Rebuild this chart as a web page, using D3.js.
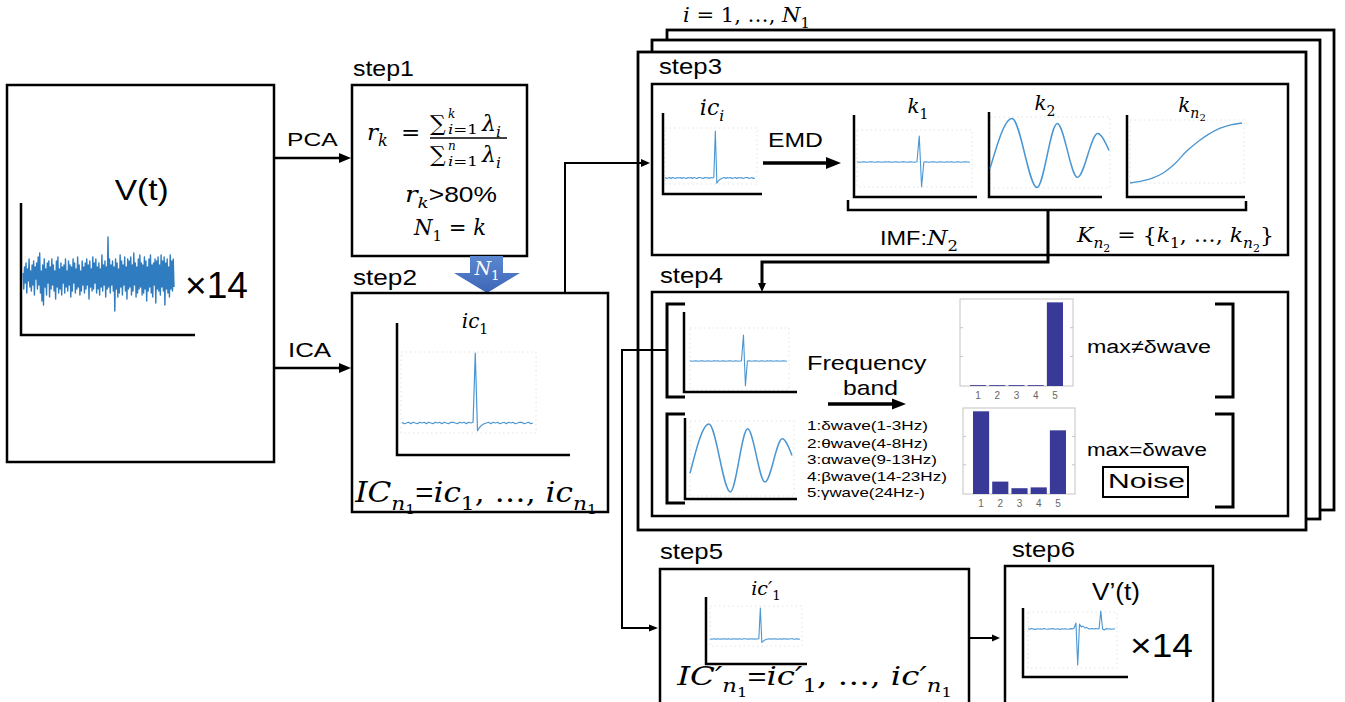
<!DOCTYPE html>
<html>
<head>
<meta charset="utf-8">
<script src="https://cdn.jsdelivr.net/npm/d3@7"></script>
<style>
  html, body { margin: 0; padding: 0; background: #fff; }
  svg { display: block; }
</style>
</head>
<body>
<svg id="fig" width="1345" height="702"></svg>
<script>
// ---------------- sample traces (values read per sample) ----------------
// raw multichannel EEG, one channel, in tenths of a unit
const rawEeg = [
  2,-6,5,-3,7,-8,4,-2,9,-5,3,-7,6,-4,8,-9,5,-1,7,-6,
  10,-4,12,-8,3,-12,6,-14,9,-5,4,-9,7,-3,8,-10,5,-6,9,-4,
  6,-7,3,-11,8,-5,10,-8,4,-6,7,-9,5,-3,6,-8,9,-5,3,-7,
  8,-4,6,-10,5,-7,9,-3,7,-8,4,-6,10,-5,6,-9,3,-7,8,-4,
  5,-8,7,-6,9,-4,6,-11,8,-5,4,-7,10,-6,7,-3,9,-8,5,-6,
  7,-9,4,-5,11,-7,6,-4,8,-10,5,-6,20,-5,9,-8,6,-4,8,-7,
  5,-17,9,-6,7,-10,4,-8,11,-5,8,-9,6,-4,10,-7,5,-11,9,-6,
  8,-5,10,-9,6,-7,12,-4,7,-10,5,-8,9,-6,11,-5,7,-9,6,-8,
  10,-6,8,-12,5,-7,9,-5,11,-8,6,-10,7,-4,9,-13,8,-6,10,-7,
  6,-9,11,-5,8,-7,10,-14,7,-6,9,-8,5,-10,11,-6,8,-7,9,-5
];
// independent component with a single spike
const icTrace = [
  0.01,-0.01,0.00,0.01,-0.01,0.01,0.00,-0.01,0.01,0.00,
  0.01,-0.01,0.01,0.00,-0.01,0.01,0.00,0.01,-0.01,0.01,
  0.00,-0.01,0.01,0.01,0.00,-0.01,0.01,0.00,0.01,-0.01,
  0.01,0.00,0.01,1.00,-0.11,-0.06,-0.03,-0.01,0.00,0.01,
  -0.01,0.01,0.00,0.01,-0.01,0.00,0.01,-0.01,0.01,0.00,
  0.01,-0.01,0.00,0.01,0.01,-0.01,0.00,0.01,-0.01,0.00
];
// first IMF: flat with one sharp transient
const imfSpike = [
  0.01,-0.01,0.00,0.01,-0.01,0.00,0.01,0.00,-0.01,0.01,
  0.00,-0.01,0.01,0.00,0.01,-0.01,0.00,0.01,-0.01,0.00,
  0.01,0.00,-0.01,0.01,0.00,-0.01,0.01,1.00,-0.95,0.00,
  0.01,-0.01,0.00,0.01,0.00,-0.01,0.01,0.00,-0.01,0.01,
  0.00,0.01,-0.01,0.00,0.01,-0.01,0.00,0.01,0.00,-0.01
];
// second IMF: oscillation, [position, value] at extrema
const imfOsc = [[0,-0.46],[0.185,0.97],[0.395,-1.0],[0.565,0.83],[0.735,-0.71],[0.905,0.54],[1,0.06]];
// last IMF: slow trend
const imfTrend = [[0,0],[0.1,0.03],[0.2,0.08],[0.3,0.17],[0.4,0.32],[0.5,0.52],[0.6,0.68],[0.7,0.81],[0.8,0.91],[0.9,0.97],[1,1]];
// reconstructed EEG after artifact removal
const cleanTrace = [
  0.01,-0.01,0.02,0.00,-0.02,0.01,0.00,0.01,-0.01,0.02,
  0.00,-0.01,0.01,0.00,0.02,-0.01,0.00,0.01,-0.02,0.01,
  0.00,0.01,-0.01,0.00,0.02,0.00,0.05,0.30,-1.80,0.25,
  0.10,0.15,0.05,0.08,0.02,0.00,0.03,0.00,0.02,0.01,
  0.00,0.90,0.00,-0.05,0.02,0.00,0.01,-0.01,0.00,0.01
];
// relative power per frequency band
const bandTicks = ["1", "2", "3", "4", "5"];
const bandNames = ["1:δwave(1-3Hz)", "2:θwave(4-8Hz)", "3:αwave(9-13Hz)", "4:βwave(14-23Hz)", "5:γwave(24Hz-)"];
const powerSpikeImf = [0.01, 0.01, 0.01, 0.01, 1.0];
const powerOscImf = [1.0, 0.15, 0.07, 0.08, 0.77];

// ---------------- drawing helpers ----------------
const svg = d3.select("#fig");
const SANS = "'Liberation Sans', Arial, sans-serif";
const MATH = "'DejaVu Serif', serif";
const TRACE = "#4a96d2";

function box(x0, y0, x1, y1, sw = 2.5) {
  svg.append("rect").attr("x", x0).attr("y", y0)
    .attr("width", x1 - x0).attr("height", y1 - y0)
    .attr("fill", "#fff").attr("stroke", "#000").attr("stroke-width", sw);
}
function path(pts, sw = 2.5) {
  svg.append("path").attr("d", d3.line()(pts))
    .attr("fill", "none").attr("stroke", "#000").attr("stroke-width", sw);
}
function arrow(pts, L = 11, W = 10, sw = 2.5) {
  const n = pts.length;
  const [x1, y1] = pts[n - 2], [x2, y2] = pts[n - 1];
  const len = Math.hypot(x2 - x1, y2 - y1);
  const ux = (x2 - x1) / len, uy = (y2 - y1) / len;
  const bx = x2 - ux * L, by = y2 - uy * L;
  path(pts.slice(0, n - 1).concat([[bx + ux, by + uy]]), sw);
  const px = -uy, py = ux;
  svg.append("path")
    .attr("d", `M${x2},${y2}L${bx + px * W / 2},${by + py * W / 2}L${bx - px * W / 2},${by - py * W / 2}Z`)
    .attr("fill", "#000");
}
function fit(sel, width) {
  const bb = sel.node().getBBox();
  const k = width / bb.width;
  sel.attr("transform", `translate(${bb.x},0) scale(${k},1) translate(${-bb.x},0)`);
  return sel;
}
function label(x, y, txt, size, width, anchor = "start") {
  const t = svg.append("text").attr("x", x).attr("y", y)
    .attr("font-family", SANS).attr("font-size", size)
    .attr("text-anchor", anchor).attr("fill", "#000").text(txt);
  if (width) fit(t, width);
  return t;
}
const KIND = {
  i:      { fs: 1,    sh: 0,    fam: MATH, st: "italic" },
  r:      { fs: 1,    sh: 0,    fam: MATH, st: "normal" },
  s:      { fs: 1,    sh: 0,    fam: SANS, st: "normal" },
  sub:    { fs: 0.7,  sh: 0.28, fam: MATH, st: "normal" },
  subi:   { fs: 0.7,  sh: 0.28, fam: MATH, st: "italic" },
  subsub: { fs: 0.5,  sh: 0.46, fam: MATH, st: "normal" }
};
function math(x, y, size, parts, width, anchor = "start", color = "#000") {
  const t = svg.append("text").attr("x", x).attr("y", y)
    .attr("font-size", size).attr("text-anchor", anchor).attr("fill", color);
  let shift = 0;
  parts.forEach(([s, k]) => {
    const c = KIND[k || "i"];
    const target = c.sh * size;
    t.append("tspan").attr("dy", target - shift)
      .attr("font-size", c.fs * size).attr("font-family", c.fam)
      .attr("font-style", c.st).text(s);
    shift = target;
  });
  if (width) fit(t, width);
  return t;
}
function axesL(x, yTop, yBot, xRight, sw = 2.5) {
  path([[x, yTop], [x, yBot], [xRight, yBot]], sw);
}
function faintFrame(x0, y0, x1, y1) {
  svg.append("rect").attr("x", x0).attr("y", y0)
    .attr("width", x1 - x0).attr("height", y1 - y0)
    .attr("fill", "none").attr("stroke", "#e2e2e2").attr("stroke-width", 1)
    .attr("stroke-dasharray", "1.5,3");
}
// series of equally spaced samples
function trace(values, x0, x1, base, unit, sw = 1.2, color = TRACE) {
  const x = d3.scaleLinear().domain([0, values.length - 1]).range([x0, x1]);
  const y = d3.scaleLinear().domain([0, 1]).range([base, base - unit]);
  svg.append("path")
    .attr("d", d3.line().x((d, i) => x(i)).y(d => y(d))(values))
    .attr("fill", "none").attr("stroke", color).attr("stroke-width", sw)
    .attr("stroke-linejoin", "round");
}
// series of [position, value] points, smoothed
function curve(points, x0, x1, base, unit, sw = 1.5) {
  const x = d3.scaleLinear().domain([0, 1]).range([x0, x1]);
  const y = d3.scaleLinear().domain([0, 1]).range([base, base - unit]);
  svg.append("path")
    .attr("d", d3.line().x(d => x(d[0])).y(d => y(d[1])).curve(d3.curveMonotoneX)(points))
    .attr("fill", "none").attr("stroke", TRACE).attr("stroke-width", sw);
}
function bars(values, fx0, fy0, fx1, fy1, bx0, bx1) {
  svg.append("rect").attr("x", fx0).attr("y", fy0)
    .attr("width", fx1 - fx0).attr("height", fy1 - fy0)
    .attr("fill", "#fff").attr("stroke", "#c4c4c4").attr("stroke-width", 1);
  const x = d3.scaleBand().domain(bandTicks).range([bx0, bx1]).paddingInner(0.16).paddingOuter(0);
  const y = d3.scaleLinear().domain([0, 1.04]).range([fy1, fy0]);
  [0.33, 0.66].forEach(f => {
    const yy = fy0 + (fy1 - fy0) * f;
    svg.append("line").attr("x1", fx0).attr("x2", fx0 + 3).attr("y1", yy).attr("y2", yy)
      .attr("stroke", "#c4c4c4");
    svg.append("line").attr("x1", fx1 - 3).attr("x2", fx1).attr("y1", yy).attr("y2", yy)
      .attr("stroke", "#c4c4c4");
  });
  svg.append("g").selectAll("rect").data(values).join("rect")
    .attr("x", (d, i) => x(bandTicks[i])).attr("width", x.bandwidth())
    .attr("y", d => y(d)).attr("height", d => fy1 - y(d))
    .attr("fill", "#393997");
  const ax = svg.append("g").attr("transform", `translate(0,${fy1})`)
    .call(d3.axisBottom(x).tickSize(0).tickPadding(6));
  ax.select(".domain").remove();
  ax.selectAll("text").attr("font-family", "'Liberation Sans Narrow', " + SANS)
    .attr("font-size", 10).attr("fill", "#666");
}

// ---------------- raw EEG input ----------------
box(7, 85, 274, 462);
label(138, 200, "V(t)", 29, 54, "middle");
axesL(21, 203, 335, 195);
trace(rawEeg.map(v => v / 10), 23, 174, 277, 20, 1.4, "#2f7cc0");
label(185, 298, "×14", 37, 63);

arrow([[274, 158], [351, 158]], 12, 10, 2.5);
label(287, 146, "PCA", 19, 51);
arrow([[274, 368], [351, 368]], 12, 10, 2.5);
label(288, 357, "ICA", 20, 44);

// ---------------- step1: number of components ----------------
label(353, 76, "step1", 22, 61);
box(352, 85, 527, 256);
math(367, 140, 23, [["r", "i"], ["k", "subi"]]);
math(401, 140, 23, [["=", "r"]]);
[[131, 118, "k", 134], [162, 150, "n", 166]].forEach(([yb, ysup, lim, ysub]) => {
  math(430, yb, 22, [["∑", "r"]]);
  math(448, ysup, 12, [[lim, "i"]]);
  math(448, ysub, 12, [["i", "i"], ["=1", "r"]], 30);
  math(482, yb, 22, [["λ", "i"], ["i", "subi"]]);
});
path([[430, 138], [507, 138]], 1.4);
math(405, 202, 22, [["r", "i"], ["k", "subi"], [">80%", "s"]], 92);
math(414, 235, 22, [["N", "i"], ["1", "sub"], [" = ", "r"], ["k", "i"]], 73);

// PCA count passed down to ICA
const grad = svg.append("defs").append("linearGradient").attr("id", "blueArrow")
  .attr("x1", 0).attr("y1", 0).attr("x2", 0).attr("y2", 1);
grad.append("stop").attr("offset", 0).attr("stop-color", "#5b86d0");
grad.append("stop").attr("offset", 1).attr("stop-color", "#3d67b6");
svg.append("path")
  .attr("d", "M470,256 H503 V273 H520 L487,293 L454,273 H470 Z")
  .attr("fill", "url(#blueArrow)");
math(487, 275, 19, [["N", "i"], ["1", "sub"]], null, "middle", "#fff");

// ---------------- step2: ICA ----------------
label(353, 285, "step2", 22, 64);
box(352, 293, 608, 512);
faintFrame(401, 352, 536, 433);
axesL(397, 323, 455, 570);
trace(icTrace, 402, 533, 423, 70, 1.2);
math(475, 328, 20, [["ic", "i"], ["1", "sub"]], null, "middle");
math(355, 502, 27, [["IC", "i"], ["n", "subi"], ["1", "subsub"], ["=", "s"], ["ic", "i"], ["1", "sub"],
  [", …, ", "r"], ["ic", "i"], ["n", "subi"], ["1", "subsub"]], 243);

// ---------------- stacked per-component frames ----------------
box(667, 30, 1334, 510, 2.8);
box(652, 40, 1320, 519, 2.8);
box(638, 52, 1306, 530, 2.8);
math(683, 22, 21, [["i", "i"], [" = 1, …, ", "r"], ["N", "i"], ["1", "sub"]], 127);

arrow([[565, 293], [565, 163], [650, 163]], 9, 8, 2);

// ---------------- step3: EMD ----------------
label(659, 74, "step3", 22, 63);
box(652, 84, 1288, 255);

faintFrame(665, 128, 757, 184);
axesL(663, 113, 194, 762);
trace(icTrace, 665, 755, 178, 47, 1.1);
math(712, 115, 22, [["ic", "i"], ["i", "subi"]], null, "middle");

label(768, 147, "EMD", 20, 55);
arrow([[763, 163], [841, 163]], 15, 12, 3.5);

faintFrame(857, 130, 972, 187);
axesL(854, 115, 197, 977);
trace(imfSpike, 857, 970, 162, 26, 1.1);
math(918, 113, 20, [["k", "i"], ["1", "sub"]], null, "middle");

faintFrame(990, 117, 1110, 188);
axesL(989, 112, 197, 1102);
curve(imfOsc, 990, 1109, 152.5, 35, 1.5);
math(1045, 110, 20, [["k", "i"], ["2", "sub"]], null, "middle");

faintFrame(1130, 120, 1244, 183);
axesL(1127, 115, 197, 1245);
curve(imfTrend, 1130, 1242, 183, 60, 1.3);
math(1192, 112, 20, [["k", "i"], ["n", "subi"], ["2", "subsub"]], null, "middle");

// brace grouping the IMFs
path([[848, 200], [848, 210], [1246, 210], [1246, 201]], 2.5);
math(880, 245, 21, [["IMF:", "s"], ["N", "i"], ["2", "sub"]], 78);
math(1077, 242, 21, [["K", "i"], ["n", "subi"], ["2", "subsub"], [" = {", "r"], ["k", "i"], ["1", "sub"],
  [", …, ", "r"], ["k", "i"], ["n", "subi"], ["2", "subsub"], ["}", "r"]], 198);

arrow([[1048, 210], [1048, 262], [762, 262], [762, 292]], 9, 8, 3);

// ---------------- step4: band power classification ----------------
label(660, 283, "step4", 22, 63);
box(652, 292, 1288, 516);

path([[685, 304], [667, 304], [667, 397], [685, 397]], 3);
path([[685, 414], [667, 414], [667, 503], [685, 503]], 3);
path([[1215, 304], [1233, 304], [1233, 397], [1215, 397]], 3);
path([[1215, 414], [1233, 414], [1233, 507], [1215, 507]], 3);

faintFrame(690, 328, 789, 390);
axesL(684, 312, 392, 797);
trace(imfSpike, 690, 787, 361, 26, 1.1);

faintFrame(690, 421, 794, 496);
axesL(685, 418, 499, 797);
curve(imfOsc, 690, 792, 457.5, 34.5, 1.5);

label(807, 370, "Frequency", 21, 120);
label(843, 395, "band", 21, 55);
arrow([[828, 404], [906, 404]], 14, 11, 3.5);

const legendY = [430, 448, 464, 481, 497];
const legendW = [121, 121, 130, 140, 118];
bandNames.forEach((s, i) => label(807, legendY[i], s, 12.5, legendW[i]));

bars(powerSpikeImf, 960, 299, 1073, 386, 970, 1063);
bars(powerOscImf, 963, 408, 1075, 494, 973, 1066);

label(1087, 353, "max≠δwave", 19, 124);
label(1087, 456, "max=δwave", 19, 120);
svg.append("rect").attr("x", 1103).attr("y", 467).attr("width", 85).attr("height", 30)
  .attr("fill", "#fff").attr("stroke", "#000").attr("stroke-width", 2);
label(1108, 488, "Noise", 20, 77);

arrow([[667, 350], [622, 350], [622, 628], [658, 628]], 9, 7, 2);

// ---------------- step5: cleaned components ----------------
label(660, 559, "step5", 22, 63);
box(660, 569, 969, 720);
faintFrame(710, 606, 802, 646);
axesL(706, 597, 664, 807);
trace(icTrace, 710, 800, 639, 31, 1.1);
math(766, 595, 19, [["ic′", "i"], ["1", "sub"]], null, "middle");
math(677, 685, 26, [["IC′", "i"], ["n", "subi"], ["1", "subsub"], ["=", "s"], ["ic′", "i"], ["1", "sub"],
  [", …, ", "r"], ["ic′", "i"], ["n", "subi"], ["1", "subsub"]], 276);

arrow([[970, 638], [1000, 638]], 8, 7, 2);

// ---------------- step6: reconstructed EEG ----------------
label(1012, 557, "step6", 22, 63);
box(1005, 566, 1213, 720);
faintFrame(1028, 612, 1117, 668);
axesL(1023, 608, 677, 1128);
trace(cleanTrace, 1028, 1115, 629, 20, 1.1);
label(1092, 600, "V’(t)", 23, 48);
label(1130, 657, "×14", 33, 63);
</script>
</body>
</html>
